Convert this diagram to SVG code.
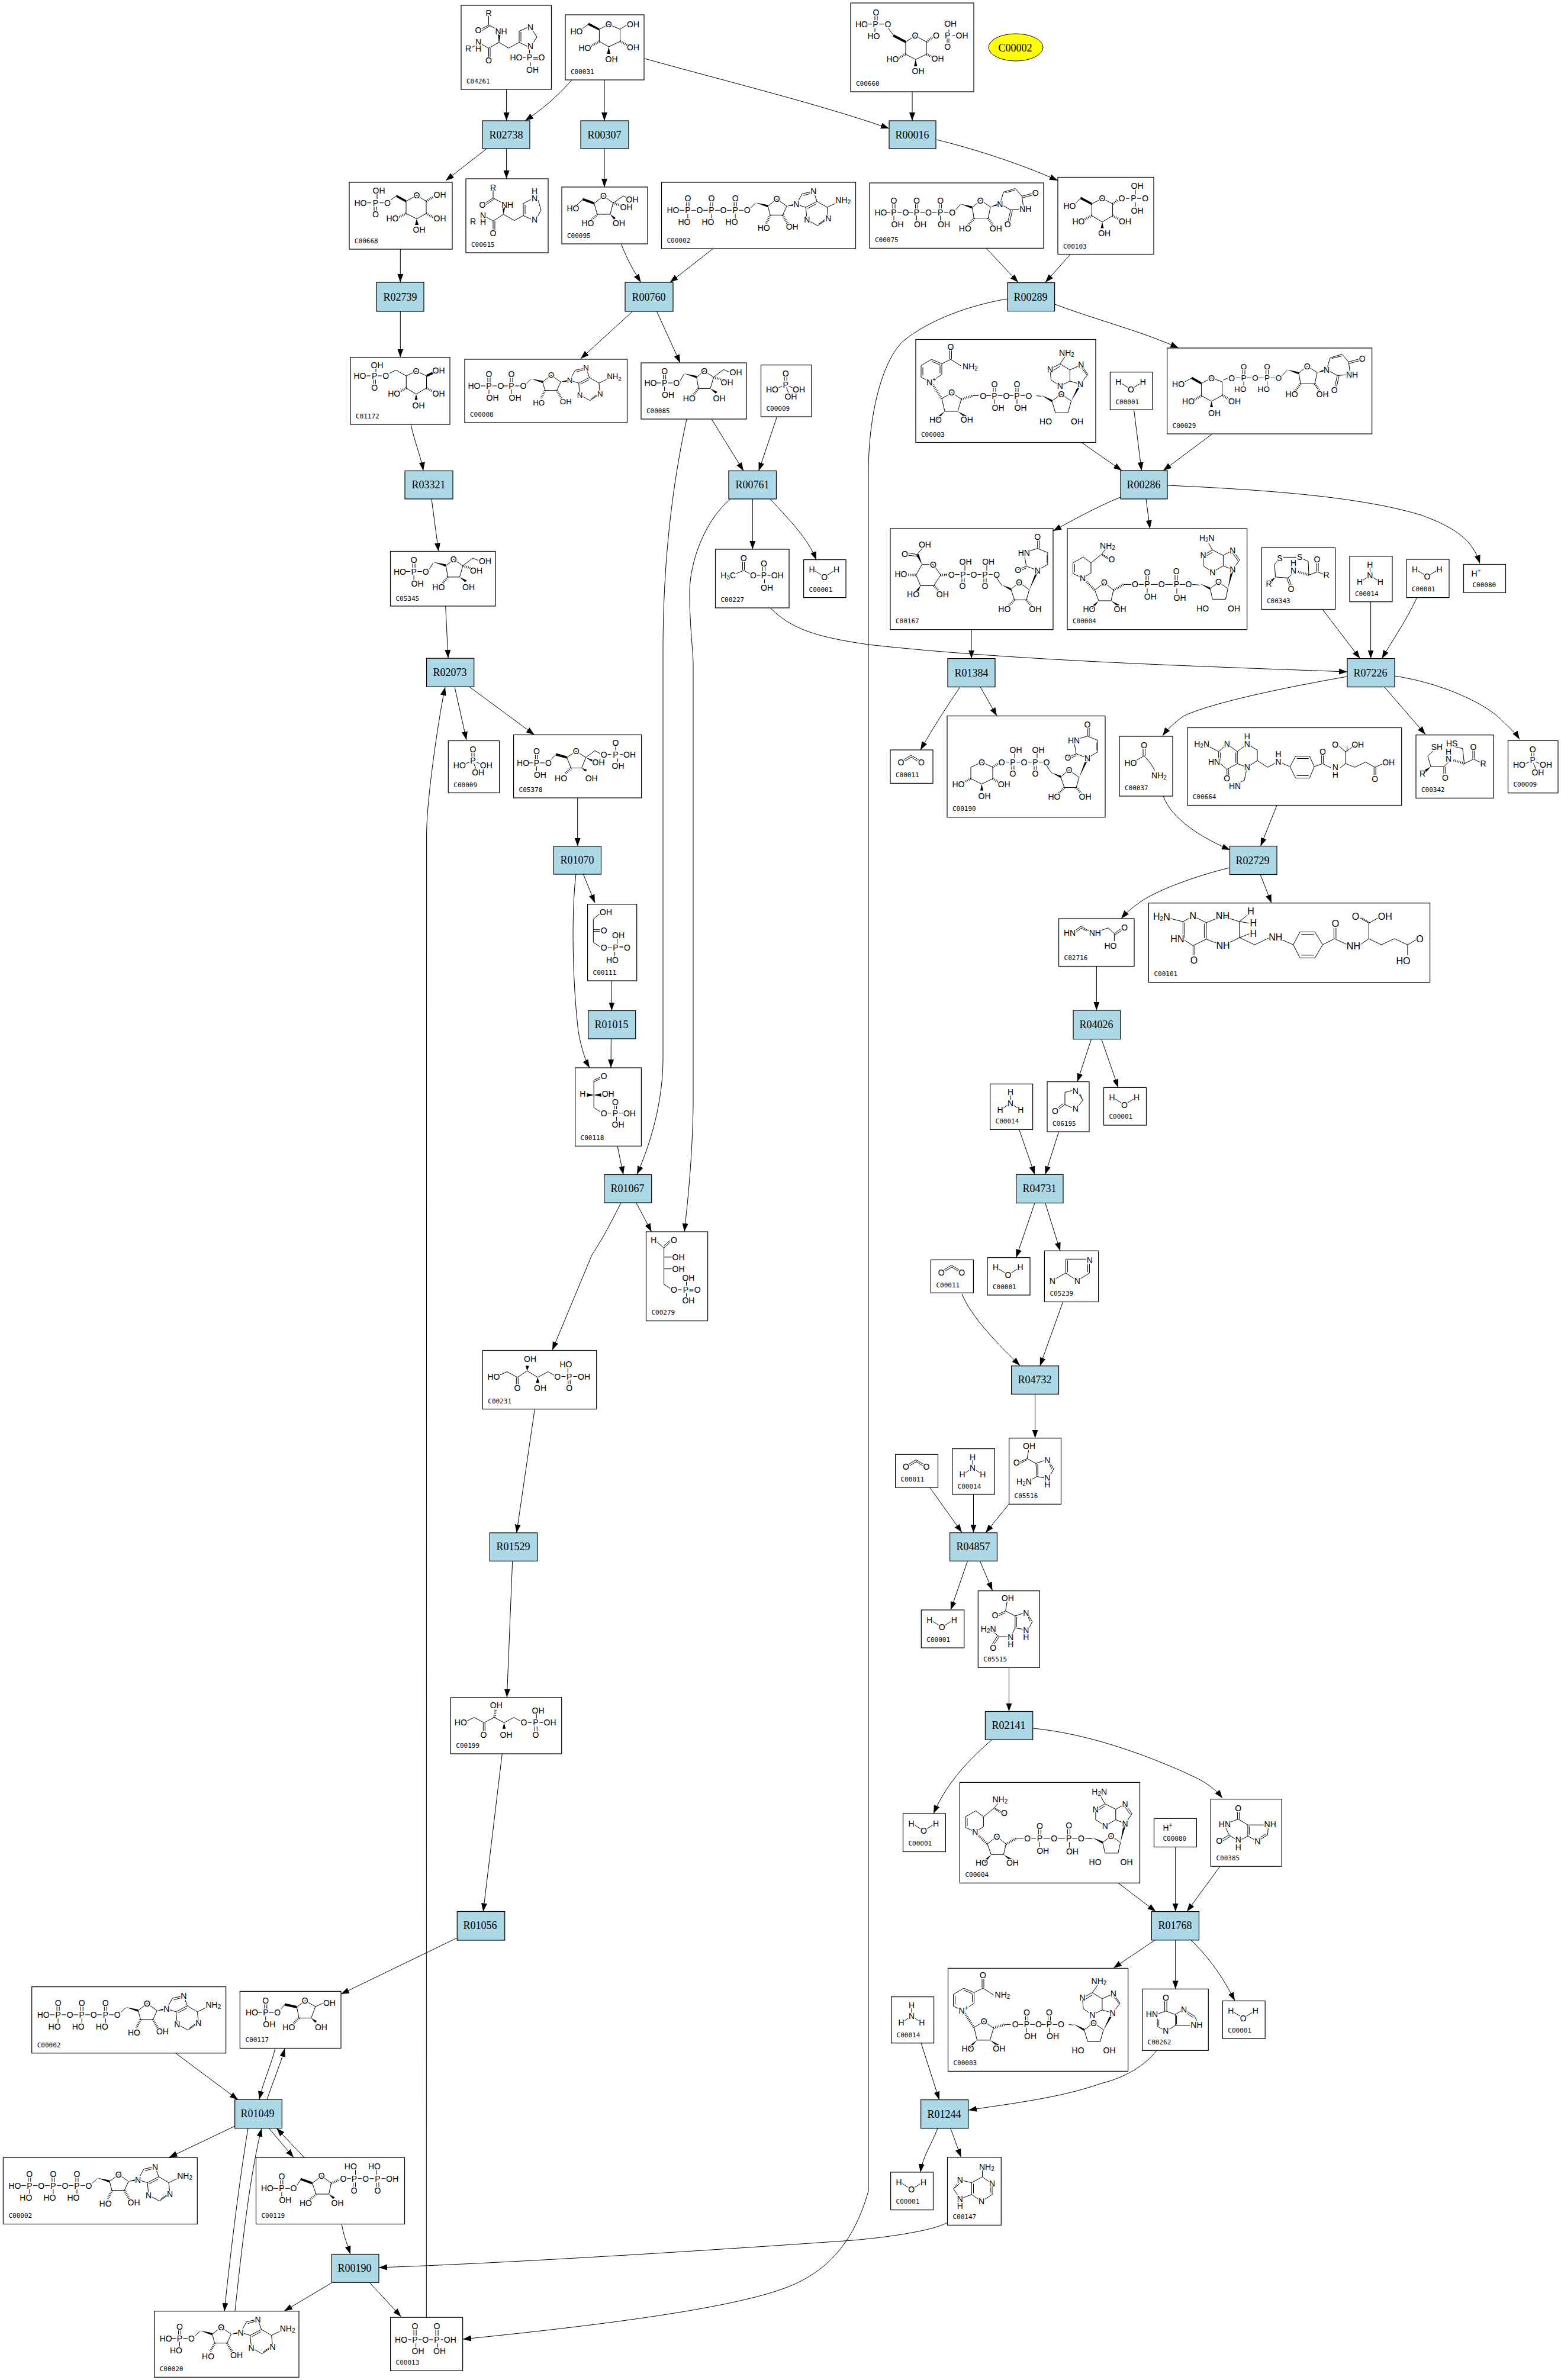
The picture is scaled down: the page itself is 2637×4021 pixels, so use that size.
<svg xmlns="http://www.w3.org/2000/svg" xmlns:xlink="http://www.w3.org/1999/xlink" width="2637" height="4021" viewBox="0 0 2637 4021">
<style>
text{font-family:"Liberation Sans",Arial,sans-serif;font-size:14px;text-anchor:middle;dominant-baseline:central;paint-order:stroke;stroke:#fff;stroke-width:3px;fill:#000}
.l{font-family:"DejaVu Sans Mono",monospace;font-size:11px;text-anchor:start;dominant-baseline:auto;stroke:none}
.r{font-family:"Liberation Serif",serif;font-size:18px;stroke:none}
.s{font-size:10px}
.n{fill:#fff;stroke:#000;stroke-width:1.2}
.q{fill:#add8e6;stroke:#000;stroke-width:1.2}
.b{fill:none;stroke:#000;stroke-width:1}
.w{fill:#000;stroke:none}
.h{fill:none;stroke:#000;stroke-width:4;stroke-dasharray:1 2}
.e{fill:none;stroke:#000;stroke-width:1;marker-end:url(#arr)}
</style>
<defs>
<marker id="arr" markerUnits="userSpaceOnUse" markerWidth="15" markerHeight="11" refX="14" refY="5" orient="auto"><path d="M0 0L14 5L0 10z" fill="#000"/></marker>
<g id="pu"><path class="b" d="M-14 0H-6M-2-14V-6M2-14V-6M0 6V14M6 0H14"/><text y="-20">O</text><text x="-6" y="20">HO</text><text>P</text><text x="20">O</text></g>
<g id="pv"><path class="b" d="M-14 0H-6M-2-14V-6M2-14V-6M0 6V14M6 0H14"/><text y="-20">O</text><text x="6" y="20">OH</text><text>P</text><text x="20">O</text></g>
<g id="ado"><path class="b" d="M6-4L14-12M35-7L50-19L67-7L60 8H39L35-7M83-10L93-28L112-32L118-15L99-5L83-10M95-25L109-29M99-5L101 16L119 26L137 14L135-5L118-15M117-11L102-3M121 23L134 14M135-5L160-17"/><path class="w" d="M14-13L35-9V-5zM67-7L83-12V-8z"/><path class="h" d="M39 8L32 22M60 8L68 22"/><text x="50" y="-19">O</text><text x="28" y="30">HO</text><text x="76" y="28">OH</text><text x="83" y="-10">N</text><text x="112" y="-32">N</text><text x="101" y="16">N</text><text x="137" y="14">N</text><text x="162" y="-17">NH<tspan class="s" dy="3">2</tspan></text></g>
<g id="uri"><path class="b" d="M6-4L14-13M34-8L48-20L65-9L61 10H37L34-8M81-14L99-4L121-6L118-27L107-40L87-34L81-14M99-4L94 18M102-3L97 18M118-27L140-33M118-24L140-30M106-37L90-33"/><path class="w" d="M14-14L34-10V-6zM65-9L81-16V-12z"/><path class="h" d="M37 10L27 23M61 10L70 23"/><text x="48" y="-20">O</text><text x="22" y="27">HO</text><text x="74" y="27">OH</text><text x="81" y="-14">N</text><text x="94" y="20">O</text><text x="124" y="-6">NH</text><text x="141" y="-33">O</text></g>
<g id="uri2"><path class="b" d="M0 6L9 19M24 25L38 13L55 26L50 43H30L24 25M69-7L50-14L46-37L69-44L86-37L86-17L69-7M50-14L36-8M50-11L37-5M69-44V-60M72-44V-60M85-33V-20"/><path class="w" d="M9 18L24 23V27zM55 26L67-7L71-6z"/><path class="h" d="M30 43L18 55M50 43L60 55"/><text x="38" y="13">O</text><text x="13" y="58">HO</text><text x="65" y="58">OH</text><text x="69" y="-7">N</text><text x="36" y="-8">O</text><text x="46" y="-37">HN</text><text x="69" y="-64">O</text></g>
<g id="m-water"><path class="b" d="M19 19L30 26M40 26L51 19"/><text x="14" y="16.8">H</text><text x="35" y="29.3">O</text><text x="55.5" y="16.8">H</text></g>
<g id="m-nh3"><path class="b" d="M34.4 19V27M29 36L22 41M40 36L47 41"/><text x="34.4" y="14">H</text><text x="34.4" y="32.5">N</text><text x="17" y="43.4">H</text><text x="51.7" y="43.4">H</text></g>
<g id="m-co2"><path class="b" d="M22 17L35 9M24 19L36 12M48 17L35 9M46 19L35 12"/><text x="17.9" y="21">O</text><text x="52.4" y="21">O</text></g>
<g id="m-pi"><path class="b" d="M39.7 19V27M43.7 19V27M36 36L26 40M47 36L57 40M43 38L47 48"/><text x="41.7" y="14.6">O</text><text x="41.7" y="33">P</text><text x="19" y="41">HO</text><text x="64" y="41">OH</text><text x="50.4" y="53.7">OH</text></g>
<g id="m-atp"><text x="19.5" y="47.3">HO</text><use href="#pu" x="44.4" y="47.3"/><use href="#pu" x="84.5" y="47.3"/><use href="#pu" x="124.6" y="47.3"/><use href="#ado" x="144.7" y="47.3"/></g>
<g id="m-f6p"><path class="b" d="M66 30L72.6 19M93.8 24.4L106.8 13.5L122.5 24.4L117 43.4H97L93.8 24.4M122.5 24.4L139 11.4L150 16"/><path class="w" d="M72.6 18L93.8 22V26zM117 43.4L126 52L129 49z"/><path class="h" d="M97 43.4L87 55M122.5 24.4L140 30"/><text x="106.8" y="13.5">O</text><text x="16" y="34">HO</text><use href="#pv" x="39.6" y="34"/><text x="81.3" y="60">HO</text><text x="132" y="60">OH</text><text x="145" y="32.5">OH</text><text x="160" y="16.3">OH</text></g>
<g id="m-nad"><path class="b" d="M44 41V59L26 72L9 64V44L26.5 33.7L44 41M41 44V57M12 47V61M27 37L41 43M44 41L59 33.7M57.5 14V33M60.5 14V33M59 33.7L77 45M44 100L60.6 89.8L77 101L71 121.4H49L44 100M96 95H106M204 95L212 96M230 104L246 92.3L262.7 104L257 124H236L230 104M278 75.5L290.7 59L279.4 42.9L260.4 51.5V70.4L278 75.5M289 60L279 46M260.4 70.4L243.7 78.6L228.6 68.4L227 50L243.7 41.3L260.4 51.5M243.7 41.3L253 28M231 53L244 45"/><path class="h" d="M27 74L44 100M77 101L96 95"/><path class="w" d="M212 94L230 102V106zM262.7 104L276 74L280 76zM49 121.4L34 132L37 136zM71 121.4L83 132L86 129z"/><text x="60.6" y="89.8">O</text><text x="246" y="92.3">O</text><text x="26" y="72">N<tspan class="s" dy="-5">+</tspan></text><text x="59" y="12">O</text><text x="92" y="45">NH<tspan class="s" dy="3">2</tspan></text><text x="33.4" y="135.7">HO</text><text x="86.3" y="135.7">OH</text><text x="113.6" y="95">O</text><use href="#pv" x="133" y="95"/><use href="#pv" x="171" y="95"/><text x="219.6" y="138.3">HO</text><text x="272.6" y="138.3">OH</text><text x="278" y="75.5">N</text><text x="279.4" y="42.9">N</text><text x="243.7" y="78.6">N</text><text x="227" y="50">N</text><text x="255" y="22">NH<tspan class="s" dy="3">2</tspan></text></g>
<g id="m-nadh"><path class="b" d="M40 58V75L26 83.7L9.5 76V58L27 48L40 58M12.5 60V74M40 58L58.4 43L74 52M59 45L73 54M58.4 43L66 33M46.5 104L62.5 91.3L78 104L74 122H53L46.5 104M95.4 94.4H108M120 94.4H129M133 79V88M137 79V88M135 101V109M141 94.4H153M165 94.4H178M182 79V88M186 79V88M185 101V110M190 94.4H199M211 94.4L224 95.4M241.3 101.5L255.5 90.3L271.3 101.5L267.4 119.4H245.3L241.3 101.5M279.2 69.4L291 53L279.2 36.7L263.4 45.4V63L279.2 69.4M288 54L278 40M263.4 63L245.3 73.5L229.5 63V45.4L245.3 36.2L263.4 45.4M245.3 36.2L237 22M232 48L245 40"/><path class="h" d="M28 86L46.5 104M78 104L95.4 94.4"/><path class="w" d="M224 93L241.3 99.5V103.5zM271.3 101.5L277 68L281 70zM53 122L40 132L43 136zM74 122L85 132L88 129z"/><text x="62.5" y="91.3">O</text><text x="255.5" y="90.3">O</text><text x="26" y="83.7">N</text><text x="68" y="28.6">NH<tspan class="s" dy="3">2</tspan></text><text x="75" y="52">O</text><text x="37" y="136">HO</text><text x="89" y="136">OH</text><text x="114.4" y="94.4">O</text><text x="135" y="94.4">P</text><text x="135" y="73.5">O</text><text x="140.3" y="115.3">OH</text><text x="159.3" y="94.4">O</text><text x="184.3" y="94.4">P</text><text x="184.3" y="72.4">O</text><text x="190" y="116.8">OH</text><text x="205" y="94.4">O</text><text x="228.7" y="134.7">HO</text><text x="281.6" y="134.7">OH</text><text x="279.2" y="69.4">N</text><text x="279.2" y="36.7">N</text><text x="245.3" y="73.5">N</text><text x="229.5" y="45.4">N</text><text x="235.8" y="15.8">H<tspan class="s" dy="3">2</tspan><tspan dy="-3">N</tspan></text></g>
</defs>
<g id="edges">
<path class="e" d="M855.6 151V204"/><path class="e" d="M966 135C940 165 915 185 887 204"/><path class="e" d="M1021 135V204"/><path class="e" d="M1089 99C1248 143 1380 175 1502 217"/><path class="e" d="M1541 155V204"/>
<path class="e" d="M1582 236C1640 250 1720 275 1787 305"/><path class="e" d="M1666 419.4L1720 477"/><path class="e" d="M1808 430L1766 477"/><path class="e" d="M1782 514C1850 540 1930 560 1991 588"/>
<path class="e" d="M1702 505C1640 515 1570 540 1526 576C1490 610 1467 700 1467 800L1467 3702C1450 3760 1420 3825 1340 3860C1250 3900 1000 3930 782 3952"/>
<path class="e" d="M1827 747.5L1895 795"/><path class="e" d="M1915.5 692L1928.4 795"/><path class="e" d="M2048 733L1965 795"/><path class="e" d="M1893 840C1855 855 1810 880 1779 897"/><path class="e" d="M1936 843L1942.6 893"/><path class="e" d="M1972 820C2150 828 2300 840 2400 870C2470 895 2490 920 2500 952"/>
<path class="e" d="M1641 1063.7V1112.6"/><path class="e" d="M1622 1160.6C1595 1200 1570 1240 1555 1267"/><path class="e" d="M1656 1160.6L1684 1209.6"/><path class="e" d="M2234 1029.5L2297.5 1112.6"/><path class="e" d="M2315.6 1016.7V1112.6"/><path class="e" d="M2393.7 1009.6C2375 1050 2350 1085 2334.5 1112.6"/>
<path class="e" d="M1301 1027C1335 1060 1370 1075 1467 1089C1700 1115 2000 1125 2276 1135"/><path class="e" d="M2276 1143C2150 1165 2040 1190 1999 1210C1985 1220 1972 1232 1964 1243"/><path class="e" d="M2338.5 1160.6L2408 1240.7"/><path class="e" d="M2356 1142C2440 1155 2510 1190 2535 1215C2550 1230 2560 1238 2567 1249"/>
<path class="e" d="M1965 1345C1980 1385 2030 1415 2078 1436"/><path class="e" d="M2157 1360.6L2129.5 1429.5"/><path class="e" d="M2077 1466C2020 1480 1950 1505 1922 1527C1910 1535 1900 1545 1894 1552"/><path class="e" d="M2129 1477.5L2148 1525.7"/><path class="e" d="M1852.4 1632.5V1707"/>
<path class="e" d="M1843.5 1755.6L1820 1827.6"/><path class="e" d="M1860.7 1755.6L1889 1837.4"/><path class="e" d="M1721.7 1908.4L1748 1984.3"/><path class="e" d="M1788.6 1912L1765.7 1984.3"/><path class="e" d="M1748 2032.5L1716.6 2124.7"/><path class="e" d="M1765.7 2032.5L1791 2113.3"/>
<path class="e" d="M1625 2186C1640 2225 1690 2275 1723 2307"/><path class="e" d="M1795.6 2199.5L1756.8 2307.7"/><path class="e" d="M1748.6 2355.4V2429.7"/><path class="e" d="M1570.6 2513L1625 2589"/><path class="e" d="M1644.5 2524.5V2589.6"/><path class="e" d="M1704.6 2541L1665 2589.6"/><path class="e" d="M1634.5 2637.3L1606 2720"/><path class="e" d="M1655.4 2637.3L1676.4 2687"/><path class="e" d="M1704.5 2817V2891.5"/>
<path class="e" d="M1676 2939C1640 2970 1600 3010 1577 3064"/><path class="e" d="M1745 2920C1850 2930 1960 2975 2013 3000C2040 3012 2055 3025 2065 3038"/><path class="e" d="M1889 3181.3L1952.5 3229.6"/><path class="e" d="M1985.7 3120.5V3229.6"/><path class="e" d="M2061 3153.2L2005 3229.6"/><path class="e" d="M1951 3277.8L1881 3325"/><path class="e" d="M1985.7 3277.8V3360.4"/><path class="e" d="M2012 3278C2045 3310 2065 3340 2086 3380"/>
<path class="e" d="M1556 3451.7L1586.7 3547.6"/><path class="e" d="M1954 3464C1935 3490 1900 3510 1860 3520C1790 3545 1700 3555 1636 3565"/><path class="e" d="M1584 3596C1575 3620 1558 3645 1555 3670"/><path class="e" d="M1605.6 3595.8C1612 3612 1618 3630 1623.5 3644.6"/>
<path class="e" d="M1600 3755C1580 3768 1500 3780 1440 3785C1300 3795 900 3822 640 3831"/><path class="e" d="M560 3857L480 3904.6"/><path class="e" d="M624 3856L677.5 3914"/><path class="e" d="M720.3 3915L720.6 1410C721 1340 745 1190 752 1161"/>
<path class="e" d="M768 1160.4L788 1250"/><path class="e" d="M793 1160.4L902.8 1241.5"/><path class="e" d="M975.7 1348V1429.8"/><path class="e" d="M985.4 1477L1005 1525.4"/><path class="e" d="M973 1477C965 1540 967 1660 977 1743C982 1770 988 1790 996 1804"/><path class="e" d="M1033.4 1657V1707.5"/><path class="e" d="M1032.4 1755L1032 1804"/><path class="e" d="M1043 1936.3L1053 1984.5"/>
<path class="e" d="M1160 708C1140 800 1120 930 1120 1100L1120 1788C1120 1860 1100 1930 1076 1984"/><path class="e" d="M1202 708L1256 795.5"/><path class="e" d="M1312.6 704L1281.7 795.5"/><path class="e" d="M1271.3 843V928"/><path class="e" d="M1301 843C1335 880 1365 910 1379 946"/><path class="e" d="M1234 843C1190 880 1165 950 1165 1001C1165 1060 1171 1100 1171 1123L1171 1865C1170 1950 1162 2030 1156 2081"/>
<path class="e" d="M1074.7 2032L1100.7 2081"/><path class="e" d="M1049 2032C1035 2060 1020 2090 1000 2120L933 2281"/><path class="e" d="M903.3 2380.6L872.7 2589.7"/><path class="e" d="M865.7 2637.4L856.3 2867.8"/><path class="e" d="M848.3 2963L816.3 3229.5"/><path class="e" d="M772.3 3274L576 3369"/>
<path class="e" d="M296.5 3468.7L402 3547.4"/><path class="e" d="M465 3460C458 3490 445 3515 438 3547"/><path class="e" d="M451 3547C460 3520 473 3490 481 3461"/><path class="e" d="M396 3592.4L285.6 3645"/><path class="e" d="M419 3596C405 3680 390 3800 379 3905"/><path class="e" d="M397 3905C410 3780 425 3660 442 3596"/><path class="e" d="M454.2 3595.6L496 3645"/><path class="e" d="M513.8 3645L467.2 3595.6"/><path class="e" d="M577.2 3757.5C580 3775 586 3790 591.9 3808.5"/>
<path class="e" d="M822.4 251L753 305"/><path class="e" d="M855.6 251V302"/><path class="e" d="M1021 251V316"/><path class="e" d="M1049.5 412.5C1060 440 1072 460 1082.6 477"/><path class="e" d="M1204 420.5L1131.8 477"/><path class="e" d="M676.3 421V477"/><path class="e" d="M676.3 526V603.6"/><path class="e" d="M1068.7 526L981 606"/><path class="e" d="M1109.4 526L1149 613"/><path class="e" d="M694 717C700 745 712 775 715 795"/><path class="e" d="M729 843L740.8 931.5"/><path class="e" d="M752.7 1024L757 1112"/>
</g>
<g id="R02738"><rect class="q" x="815" y="204" width="80" height="47"/><text class="r" x="855" y="227.5">R02738</text></g>
<g id="R00307"><rect class="q" x="981" y="204" width="81" height="47"/><text class="r" x="1021" y="227.5">R00307</text></g>
<g id="R00016"><rect class="q" x="1502" y="204" width="79" height="47"/><text class="r" x="1541" y="227.5">R00016</text></g>
<g id="R02739"><rect class="q" x="636" y="477" width="80" height="49"/><text class="r" x="676" y="501.5">R02739</text></g>
<g id="R00760"><rect class="q" x="1056" y="477" width="81" height="49"/><text class="r" x="1096" y="501.5">R00760</text></g>
<g id="R00289"><rect class="q" x="1702" y="477.6" width="79.6" height="48"/><text class="r" x="1741" y="501.5">R00289</text></g>
<g id="R03321"><rect class="q" x="684" y="795.5" width="81" height="47.5"/><text class="r" x="724" y="819">R03321</text></g>
<g id="R00761"><rect class="q" x="1231" y="795.5" width="80.5" height="47.5"/><text class="r" x="1271" y="819">R00761</text></g>
<g id="R00286"><rect class="q" x="1893" y="795" width="79" height="48"/><text class="r" x="1932" y="819">R00286</text></g>
<g id="R02073"><rect class="q" x="720.6" y="1112.2" width="80.1" height="48.2"/><text class="r" x="760" y="1136">R02073</text></g>
<g id="R01384"><rect class="q" x="1601" y="1112.6" width="80" height="48"/><text class="r" x="1641" y="1136.5">R01384</text></g>
<g id="R07226"><rect class="q" x="2276" y="1112.6" width="80" height="48"/><text class="r" x="2315" y="1136.5">R07226</text></g>
<g id="R01070"><rect class="q" x="935.4" y="1429.8" width="80.1" height="47.2"/><text class="r" x="975" y="1453">R01070</text></g>
<g id="R02729"><rect class="q" x="2077.5" y="1429.5" width="79.5" height="48"/><text class="r" x="2116" y="1453.5">R02729</text></g>
<g id="R01015"><rect class="q" x="993.6" y="1707.5" width="80.1" height="47.5"/><text class="r" x="1033" y="1731">R01015</text></g>
<g id="R04026"><rect class="q" x="1813" y="1707" width="79.6" height="48.6"/><text class="r" x="1852" y="1731">R04026</text></g>
<g id="R01067"><rect class="q" x="1020.6" y="1984.5" width="80.1" height="47.5"/><text class="r" x="1060" y="2008">R01067</text></g>
<g id="R04731"><rect class="q" x="1716.6" y="1984.3" width="79.4" height="48.2"/><text class="r" x="1756" y="2008">R04731</text></g>
<g id="R04732"><rect class="q" x="1708.6" y="2307.7" width="79.9" height="47.7"/><text class="r" x="1748" y="2331">R04732</text></g>
<g id="R01529"><rect class="q" x="827.3" y="2589.7" width="80.4" height="47.7"/><text class="r" x="867" y="2613">R01529</text></g>
<g id="R04857"><rect class="q" x="1604.6" y="2589.6" width="79.9" height="47.7"/><text class="r" x="1644" y="2613">R04857</text></g>
<g id="R02141"><rect class="q" x="1664.4" y="2891.5" width="80.3" height="47.7"/><text class="r" x="1704" y="2915">R02141</text></g>
<g id="R01056"><rect class="q" x="772.3" y="3229.5" width="80.4" height="48.5"/><text class="r" x="811" y="3253">R01056</text></g>
<g id="R01768"><rect class="q" x="1945.4" y="3229.6" width="80.1" height="48.2"/><text class="r" x="1985" y="3253">R01768</text></g>
<g id="R01049"><rect class="q" x="396.7" y="3547.4" width="79.7" height="48.2"/><text class="r" x="435" y="3571">R01049</text></g>
<g id="R01244"><rect class="q" x="1555.6" y="3547.6" width="80.1" height="48.2"/><text class="r" x="1595" y="3571.5">R01244</text></g>
<g id="R00190"><rect class="q" x="560.4" y="3808.5" width="79.6" height="47.8"/><text class="r" x="599" y="3832">R00190</text></g>
<g id="C00002-query"><ellipse cx="1716" cy="80" rx="46" ry="23" fill="#ff0" stroke="#000"/><text class="r" x="1715" y="80.5">C00002</text></g>

<g id="C04261" transform="translate(779,9)"><rect class="n" width="152.5" height="142"/><text class="l" x="9" y="132">C04261</text><path class="b" d="M46.5 18V33.5L33 40M48 35L33 44M46.5 33.5L60 40M64 62.5V50M64 62.5L46.5 72.3L35 66M46.5 72.3V88M49 72.3V88M24 68L18 71M64 62.5L80.4 72.3L98 62.5V43.7L113 37M101 61V45M120 41L128 53.6L120 66M117 72L98 62.5M115.5 81V74M104 88.4H109M122 88.4H130M122 91H130M117 96V104"/><path class="w" d="M64 62.5L62 48L67 48z"/><text x="46.5" y="13.4">R</text><text x="29" y="42.4">O</text><text x="67.6" y="44">NH</text><text x="46.5" y="93">O</text><text x="29" y="62">N</text><text x="29" y="73">H</text><text x="12" y="72.7">R</text><text x="117" y="36.6">N</text><text x="117" y="69">N</text><text x="115.5" y="88.4">P</text><text x="93" y="88.4">HO</text><text x="136" y="88.4">O</text><text x="120.6" y="108.5">OH</text></g>

<g id="C00031" transform="translate(955,25)"><rect class="n" width="133" height="110"/><text class="l" x="9" y="100">C00031</text><path class="b" d="M57.4 24.5L73.3 16L92.5 24.5V45L73.3 54L57.4 45V24.5M39.5 15.6L28 24M92.5 24.5L104 17"/><path class="w" d="M57.4 23L39.5 13.5L38.5 17.5L57.4 26.5zM73.3 54L70.5 66L76 66z"/><path class="h" d="M57.4 45L43 53M92.5 45L106 52"/><text x="73.3" y="16">O</text><text x="19" y="28">HO</text><text x="33" y="56">HO</text><text x="114.5" y="55.4">OH</text><text x="78" y="75.4">OH</text><text x="114.5" y="16">OH</text></g>

<g id="C00660" transform="translate(1437,5)"><rect class="n" width="208" height="150"/><text class="l" x="9" y="140">C00660</text><path class="b" d="M93 65.7L109 55.4L128 65.7V86.7L109.7 95.5L93 86.7V65.7M72.7 55L63 42M30 35.7H36M48 35.7H56M41 19V29M45 19V29M41 42V49M166 45V50M163 60V67M166 60V67M172 55.4H179"/><path class="w" d="M93 63.5L72.7 53L71.5 57L93 68zM109.7 95.5L107 107L112.5 107z"/><path class="h" d="M128 65.7L138 58M93 86.7L81 93M128 86.7L139 92"/><text x="109" y="55.4">O</text><text x="63" y="35.7">O</text><text x="42" y="35.7">P</text><text x="18.5" y="35.7">HO</text><text x="43" y="15.6">O</text><text x="39" y="55.8">HO</text><text x="144.5" y="55.4">O</text><text x="163.6" y="55.4">P</text><text x="168.7" y="35">OH</text><text x="188" y="55.4">OH</text><text x="163.6" y="73.7">O</text><text x="71" y="94.5">HO</text><text x="147" y="93.7">OH</text><text x="114" y="115">OH</text></g>

<g id="C00668" transform="translate(590,308)"><rect class="n" width="174" height="113"/><text class="l" x="9" y="103">C00668</text><path class="b" d="M30 34.7H37M47 18V28M42 41V48M46 41V48M51 34.7H58M70 30L79.6 22.8M96 32L114 22.2L130 32V52.6L114 61.8L96 52.6V32"/><path class="w" d="M79.6 21L96 30V34L79.6 25zM114 61.8L111 72L117 72z"/><path class="h" d="M96 52.6L84 59M130 52.6L142 59M130 32L143 24"/><text x="19" y="34.7">HO</text><text x="44.4" y="34.7">P</text><text x="50" y="14">OH</text><text x="44.4" y="53.7">O</text><text x="64.5" y="34.7">O</text><text x="114" y="22.2">O</text><text x="73" y="60.7">HO</text><text x="153" y="60.7">OH</text><text x="118" y="80">OH</text><text x="153" y="21">OH</text></g>

<g id="C00615" transform="translate(787,302)"><rect class="n" width="139" height="125"/><text class="l" x="9" y="115">C00615</text><path class="b" d="M46 19V32.5L33 41M48 34L34 44M46 32.5L60 40M46 71.5L63.5 60M63.5 60L82 70.5L97 62.3V41.7L110 35M100 60V44M122 36L127 53L120 66M97 62.3L110 68M46 71.5V86M49 71.5V86M46 71.5L35 65"/><path class="w" d="M63.5 60L61.5 48L66.5 48z"/><text x="46" y="14.6">R</text><text x="28" y="44">O</text><text x="70" y="44">NH</text><text x="46" y="92">O</text><text x="29" y="62">N</text><text x="29" y="73">H</text><text x="12" y="71.5">R</text><text x="116" y="32.5">N</text><text x="116" y="21">H</text><text x="116" y="69.4">N</text></g>

<g id="C00095" transform="translate(949,316)"><rect class="n" width="145" height="96"/><text class="l" x="9" y="86">C00095</text><path class="b" d="M54.7 27.6L70.4 15L86.7 27L81.8 46H60L54.7 27.6M35.8 20.6L26 30M86.7 27L104 15L112 19"/><path class="w" d="M35.8 18.5L54.7 25.5V29.5L35 22.5zM81.8 46L88 55L91 52z"/><path class="h" d="M60 46L50 56M86.7 27L100 31"/><text x="70.4" y="15">O</text><text x="19" y="35.8">HO</text><text x="44" y="61">HO</text><text x="96.6" y="61">OH</text><text x="109" y="33.6">OH</text><text x="119" y="20.6">OH</text></g>

<g id="C00002-1" transform="translate(1117.5,308)"><rect class="n" width="328" height="112"/><text class="l" x="9" y="102">C00002</text><use href="#m-atp"/></g>

<g id="C00075" transform="translate(1469,309)"><rect class="n" width="294" height="110.4"/><text class="l" x="9" y="100">C00075</text><text x="19" y="49.5">HO</text><use href="#pv" x="41" y="49.5"/><use href="#pv" x="79.5" y="49.5"/><use href="#pv" x="119.6" y="49.5"/><use href="#uri" x="139.3" y="49.5"/></g>

<g id="C00103" transform="translate(1787,299.5)"><rect class="n" width="162" height="130"/><text class="l" x="9" y="120">C00103</text><path class="b" d="M57.4 44.9L75 35.7L92.6 44.9V65L75 75.5L57.4 65V44.9M39 35L30 44M115 35.7H121M131 21V29M131 42V50M134 35.7H141"/><path class="w" d="M39 33L57.4 42.9V46.9L38 37zM75 75.5L72.5 86L77.5 86z"/><path class="h" d="M92.6 44.9L102 38M57.4 65L46 71M92.6 65L104 71"/><text x="75" y="35.7">O</text><text x="20" y="48.5">HO</text><text x="35" y="74.5">HO</text><text x="113.6" y="74.5">OH</text><text x="78.7" y="94.4">OH</text><text x="108" y="35.7">O</text><text x="128" y="35.7">P</text><text x="147.6" y="35.7">O</text><text x="134" y="14.3">OH</text><text x="134" y="56.6">OH</text></g>

<g id="C01172" transform="translate(592,603.6)"><rect class="n" width="168" height="113.4"/><text class="l" x="9" y="103">C01172</text><path class="b" d="M27 31.4H34M43 18V26M39 38V45M42.5 38V45M46 31.4H53M66 27L77 21.7L94.3 31.4L111 23.3L128.5 31.4V52L111 62.3L94.3 52V31.4"/><path class="w" d="M111 62.3L108.5 72L113.5 72zM128.5 29.5L140 24L141 28L128.5 33.5z"/><path class="h" d="M94.3 52L83 58M128.5 52L140 58"/><text x="16" y="31.4">HO</text><text x="40.6" y="31.4">P</text><text x="45" y="13">OH</text><text x="40.6" y="51.5">O</text><text x="59.6" y="31.4">O</text><text x="111" y="23.3">O</text><text x="73.7" y="61.8">HO</text><text x="149" y="61.8">OH</text><text x="115" y="81.8">OH</text><text x="149" y="22.8">OH</text></g>

<g id="C00008" transform="translate(785,607)"><rect class="n" width="274.5" height="107"/><text class="l" x="9" y="97">C00008</text><text x="16" y="45">HO</text><use href="#pv" x="41" y="45"/><use href="#pv" x="79" y="45"/><use href="#ado" transform="translate(98.6,45) scale(.95)"/></g>

<g id="C00085" transform="translate(1083,613)"><rect class="n" width="178" height="95"/><text class="l" x="9" y="85">C00085</text><use href="#m-f6p"/></g>
<g id="C00009-1" transform="translate(1285.5,616.6)"><rect class="n" width="85.5" height="87.4"/><text class="l" x="9" y="77">C00009</text><use href="#m-pi"/></g>
<g id="C05345" transform="translate(659.5,931.5)"><rect class="n" width="177.5" height="92.5"/><text class="l" x="9" y="83">C05345</text><use href="#m-f6p"/></g>

<g id="C00227" transform="translate(1208.5,928)"><rect class="n" width="124.5" height="99"/><text class="l" x="9" y="89">C00227</text><path class="b" d="M33 42L47.7 35.8L58 41M46 20V35M49 20V35M70 44H76M80 29V37M84 29V37M88 44H94M83 51V57"/><text x="21.7" y="44">H<tspan class="s" dy="3">3</tspan><tspan dy="-3">C</tspan></text><text x="47.7" y="14.6">O</text><text x="64" y="44">O</text><text x="82" y="44">P</text><text x="82" y="24">O</text><text x="104.7" y="44">OH</text><text x="87" y="64.5">OH</text></g>
<g id="C00001-1" transform="translate(1357.6,945.6)"><rect class="n" width="71.4" height="64"/><text class="l" x="9" y="54">C00001</text><use href="#m-water"/></g>

<g id="C00003-1" transform="translate(1547,573.5)"><rect class="n" width="304" height="174"/><text class="l" x="9" y="164">C00003</text><use href="#m-nad"/></g>
<g id="C00001-2" transform="translate(1875.4,628.6)"><rect class="n" width="71.6" height="63.7"/><text class="l" x="9" y="54">C00001</text><use href="#m-water"/></g>

<g id="C00029" transform="translate(1971.6,588)"><rect class="n" width="346" height="145"/><text class="l" x="9" y="135">C00029</text><path class="b" d="M58 59.7L75 50.5L93 57V80L75 90L58 80.6V59.7M42 50.5L30 57M95 54L102 51"/><path class="w" d="M42 48.5L58 57.7V61.7L41 52.5zM75 90L72.5 100L77.5 100z"/><path class="h" d="M58 80.6L46 87M93 80L105 87"/><text x="75" y="50.5">O</text><text x="19" y="60.7">HO</text><text x="36" y="90">HO</text><text x="114" y="90">OH</text><text x="80" y="110">OH</text><text x="109" y="50.5">O</text><use href="#pu" transform="translate(129.5,50.5) scale(.97)"/><use href="#pu" transform="translate(169,50.5) scale(.97)"/><use href="#uri" transform="translate(188.5,50.5)"/></g>

<g id="C00167" transform="translate(1504,893)"><rect class="n" width="275" height="170.7"/><text class="l" x="9" y="160">C00167</text><path class="b" d="M45.4 43.9L55 32M45.4 43.9L30 41M45.4 47L30 45M53.6 60.7L72.5 60.7L85.2 78.6L73.4 96.4H51L43.4 78.6L53.6 60.7M92 78H96"/><path class="w" d="M53.6 60.7L44 45L48 43zM51 96.4L43 105L47 108z"/><path class="h" d="M43.4 78.6L30 78M73.4 96.4L82 105M85.2 78.6L95 78"/><text x="58.4" y="26.5">OH</text><text x="24.4" y="42.9">O</text><text x="72.5" y="60.7">O</text><text x="18" y="77">HO</text><text x="38.6" y="110.7">HO</text><text x="88.3" y="110.7">OH</text><text x="103.3" y="77.6">O</text><path class="b" d="M109 77.6H117M126 62V71M121 84V91M125 84V91M129 77.6H135M147 77.6H154M163 62V71M158 84V91M162 84V91M166 77.6H173"/><text x="123" y="77.6">P</text><text x="127" y="56">OH</text><text x="122" y="97.4">O</text><text x="141" y="77.6">O</text><text x="160" y="77.6">P</text><text x="165.7" y="56">OH</text><text x="160" y="97.4">O</text><text x="179.8" y="77.6">O</text><use href="#uri2" x="179.8" y="77.6"/></g>

<g id="C00004-1" transform="translate(1803,893)"><rect class="n" width="303.6" height="170.7"/><text class="l" x="9" y="160">C00004</text><use href="#m-nadh"/></g>

<g id="C00343" transform="translate(2131,925.4)"><rect class="n" width="124.7" height="104.1"/><text class="l" x="9" y="94">C00343</text><path class="b" d="M36 16H59M70 19L79 23L80 46L94.6 40.8M93 24V40M96 24V40M94.6 40.8L105 45M27 22L22 28L23.7 49.5L44.2 51M44.2 51L54 43M42.5 51L48 65M45.5 50L51 65"/><path class="w" d="M23.7 49.5L13 56L16 60z"/><path class="h" d="M80 46L60 40"/><text x="30.8" y="17.9">S</text><text x="64.7" y="15.8">S</text><text x="54" y="38.3">N</text><text x="54" y="25.5">H</text><text x="50" y="70">O</text><text x="12.6" y="61">R</text><text x="94" y="19.4">O</text><text x="109.6" y="46">R</text></g>
<g id="C00014-1" transform="translate(2280,939.7)"><rect class="n" width="72" height="77"/><text class="l" x="9" y="67">C00014</text><use href="#m-nh3"/></g>
<g id="C00001-3" transform="translate(2376,945)"><rect class="n" width="72" height="64.6"/><text class="l" x="9" y="54">C00001</text><use href="#m-water"/></g>
<g id="C00080-1" transform="translate(2472.5,953.5)"><rect class="n" width="71" height="47.9"/><text class="l" x="15" y="38">C00080</text><text x="21" y="15.3">H<tspan class="s" dy="-5">+</tspan></text></g>

<g id="C00009-2" transform="translate(757.3,1251.5)"><rect class="n" width="86.3" height="88"/><text class="l" x="9" y="78">C00009</text><use href="#m-pi"/></g>

<g id="C05378" transform="translate(867.6,1241.5)"><rect class="n" width="216" height="106.5"/><text class="l" x="9" y="96">C05378</text><text x="16" y="47.4">HO</text><use href="#pv" x="38.8" y="47.4" /><path class="b" d="M63 42L72 33M90 38.3L105.6 27.5L122 38.3L115 56H97L90 38.3M122 38.3L137.2 26.8L147 32M158 33H165M172.4 18V26M176 40V46M180 33H188"/><path class="w" d="M72 31L90 36.3V40.3L71 35zM115 56L121 62L124 59zM122 38.3L136 43L135 47z"/><path class="h" d="M97 56L87 66"/><text x="80" y="73.5">HO</text><text x="131.6" y="73.5">OH</text><text x="105.6" y="27.5">O</text><text x="143.4" y="46">OH</text><text x="152.5" y="33">O</text><text x="172.4" y="33">P</text><text x="172.4" y="13">O</text><text x="196" y="33">OH</text><text x="176.5" y="52.8">OH</text></g>

<g id="C00190" transform="translate(1600,1209.6)"><rect class="n" width="267" height="171"/><text class="l" x="9" y="160">C00190</text><path class="b" d="M40 86.7L58.4 78L77 86.7V106L58.4 115L40 106V86.7M100 78H105M114 63V71M109 84V91M113 84V91M117 78H124M136 78H143M152 63V71M147 84V91M151 84V91M155 78H162"/><path class="w" d="M58.4 115L56 126L61 126z"/><path class="h" d="M40 106L28 112M77 106L87 112M77 86.7L87 80"/><text x="58.4" y="78">O</text><text x="19" y="115">HO</text><text x="96.2" y="115">OH</text><text x="63" y="135.7">OH</text><text x="92.3" y="78">O</text><text x="111" y="78">P</text><text x="116" y="57.6">OH</text><text x="111" y="97">O</text><text x="130" y="78">O</text><text x="149" y="78">P</text><text x="154" y="57.6">OH</text><text x="149" y="97">O</text><text x="168" y="78">O</text><use href="#uri2" x="168" y="78"/></g>

<g id="C00011-1" transform="translate(1504,1267)"><rect class="n" width="72" height="56.4"/><text class="l" x="9" y="46">C00011</text><use href="#m-co2"/></g>

<g id="C00037" transform="translate(1891,1244)"><rect class="n" width="90" height="101"/><text class="l" x="9" y="91">C00037</text><path class="b" d="M40 21V33M43.5 21V33M41.8 33L26 42M41.8 33L53 46L60 58"/><text x="41.8" y="15.3">O</text><text x="19" y="45">HO</text><text x="67" y="66">NH<tspan class="s" dy="3">2</tspan></text></g>

<g id="C00664" transform="translate(2005.7,1229.5)"><rect class="n" width="362" height="131"/><text class="l" x="9" y="120">C00664</text><path class="b" d="M35 31L53 40.3L67 27.5L84.5 40.3V60.7L67 70.4L53 58V40.3M56 42V56M82 42V59M67 70.4V80M70 70.4V80M84.5 40.3L101 27.5L118.3 37.8V55.6L101 66.8L84.5 60.7M101 66.8L96.4 88.8L85 94M118.3 55.6L135.7 66.8L153.9 57M160 60L173.5 65.8L183 48H206.6L214.5 65.8L206.6 85H183L173.5 65.8M185 52H205M185 81H205M214.5 65.8L228.7 60.7L243 68M227 45V60M230 45V60M258 68L267.4 60.7L283 66.8L301 58L317 66.8L332 60M267.4 60.7V40.3L256 31M270 40V32M267.4 40.3L283 30M315.5 66.8V80M318.5 66.8V80"/><text x="24.5" y="27.5">H<tspan class="s" dy="3">2</tspan><tspan dy="-3">N</tspan></text><text x="67" y="27.5">N</text><text x="45.4" y="57">HN</text><text x="67" y="85">O</text><text x="101" y="27.5">N</text><text x="101" y="14">H</text><text x="101" y="66.8">N</text><text x="80.4" y="98">HN</text><text x="153.9" y="57">N</text><text x="153.9" y="44">H</text><text x="228.7" y="40.3">O</text><text x="250" y="66">N</text><text x="250" y="79">H</text><text x="250" y="28.6">O</text><text x="288" y="28.6">OH</text><text x="340" y="58">OH</text><text x="317" y="86">O</text></g>

<g id="C00342" transform="translate(2392,1241.7)"><rect class="n" width="131" height="106.7"/><text class="l" x="9" y="96">C00342</text><path class="b" d="M29 27L20 35.7L25 53.6L47 53.6L55 46M47 53.6L47 66M50 53.6L50 66M65 20L78.9 23L81.6 48.5L97.6 40.8M96 26V40M99 26V40M97.6 40.8L108 46"/><path class="w" d="M25 53.6L13 60L16 64z"/><path class="h" d="M81.6 48.5L62 42"/><text x="35.5" y="20.4">SH</text><text x="11" y="65.3">R</text><text x="49.4" y="72.4">O</text><text x="55" y="40.8">N</text><text x="55" y="28">H</text><text x="60.7" y="14.3">HS</text><text x="97" y="20.4">O</text><text x="113.6" y="48.5">R</text></g>
<g id="C00009-3" transform="translate(2547.5,1251.4)"><rect class="n" width="84.5" height="88.3"/><text class="l" x="9" y="78">C00009</text><use href="#m-pi"/></g>

<g id="C00111" transform="translate(992.6,1527.7)"><rect class="n" width="83.1" height="129.3"/><text class="l" x="9" y="119">C00111</text><path class="b" d="M22 15L9.7 25.2V64.3L21 72M9.7 43H21M9.7 46H21M34 73.5H41M50 58V67M54 73.5H60M54 71.5H60M46 80V88"/><text x="31" y="13.8">OH</text><text x="27.5" y="44.4">O</text><text x="27.5" y="73.5">O</text><text x="47.4" y="73.5">P</text><text x="52" y="52">OH</text><text x="66.8" y="73.5">O</text><text x="41.8" y="94">HO</text></g>

<g id="C00118" transform="translate(971.6,1804)"><rect class="n" width="111.8" height="132.3"/><text class="l" x="9" y="122">C00118</text><path class="b" d="M42 16L31.6 21V67.3L42 74M31.6 24L42 18.5M54 76.5H61M66 63V70M70 63V70M74 76.5H82M70 83V90"/><path class="w" d="M31.6 46L20 43V49zM31.6 46L44 43V49z"/><text x="48.5" y="13.8">O</text><text x="12.8" y="44.4">H</text><text x="55.6" y="44.4">OH</text><text x="48.5" y="76.5">O</text><text x="67.9" y="76.5">P</text><text x="67.9" y="58">O</text><text x="91.8" y="76.5">OH</text><text x="72.4" y="96.4">OH</text></g>

<g id="C00279" transform="translate(1091.5,2081)"><rect class="n" width="104.1" height="150.6"/><text class="l" x="9" y="140">C00279</text><path class="b" d="M18 17L30.1 27.5L41 17M30.1 24L41 14M30.1 27.5V88.8L41 96M30.1 42.8H44M30.1 62.7H44M53 98H60M68 84V91M73 98H80M73 100H80M68 104V110"/><text x="12.8" y="13.8">H</text><text x="46.9" y="13.8">O</text><text x="54.6" y="42.8">OH</text><text x="54.6" y="62.7">OH</text><text x="46.9" y="98">O</text><text x="66.8" y="98">P</text><text x="71.4" y="78">OH</text><text x="86.7" y="98">O</text><text x="71.4" y="116.3">OH</text></g>

<g id="C00231" transform="translate(815.3,2281.5)"><rect class="n" width="192.4" height="99.1"/><text class="l" x="9" y="89">C00231</text><path class="b" d="M28 42L41.3 36L58.7 45.5L75.3 34.5L93 45.5L110.3 36L121 42M57 46V58M60 46V58M133 44H140M144 30V38M144.5 50V58M148 50V58M153 44H160"/><path class="w" d="M75.3 34.5L72.5 26H78.5zM93 45.5L90 55H96z"/><text x="18.7" y="44">HO</text><text x="58.7" y="63.8">O</text><text x="80.3" y="14">OH</text><text x="97.3" y="63.8">OH</text><text x="126.3" y="44">O</text><text x="146.3" y="44">P</text><text x="140.7" y="23.5">HO</text><text x="146.3" y="63.8">O</text><text x="171.3" y="44">OH</text></g>

<g id="C00199" transform="translate(761.3,2867.8)"><rect class="n" width="187.4" height="95.2"/><text class="l" x="9" y="85">C00199</text><path class="b" d="M27 40L39.7 33.8L56.3 42.6L73.7 33.8L90.3 42.6L107 33.8L118 40M55 43V57M58 43V57M130 42.6H137M145 28V36M142 49V57M146 49V57M150 42.6H158"/><path class="w" d="M90.3 42.6L87.5 53H93z"/><path class="h" d="M73.7 33.8L76 21"/><text x="17" y="42.6">HO</text><text x="55.7" y="63">O</text><text x="77" y="13.2">OH</text><text x="93.7" y="63">OH</text><text x="123.7" y="42.6">O</text><text x="143.7" y="42.6">P</text><text x="147.7" y="22.7">OH</text><text x="143.7" y="63">O</text><text x="167.7" y="42.6">OH</text></g>

<g id="C02716" transform="translate(1788.6,1552)"><rect class="n" width="127.4" height="80.5"/><text class="l" x="9" y="70">C02716</text><path class="b" d="M28 20L37.6 13L53 22M29 23L38 16L47 21M71 20L83.5 15.7L93.8 25.5L105 17M94 28L106 20M93.8 25.5V38"/><text x="18.5" y="24.4">HN</text><text x="61.2" y="24.4">NH</text><text x="111" y="14.6">O</text><text x="87.4" y="45.5">HO</text></g>

<g id="C00101" transform="translate(1940.4,1525.7)"><rect class="n" width="475.2" height="133.9"/><text class="l" x="9" y="123">C00101</text><path class="b" d="M36 26L58 31.4L75 22.2L97.4 33V61L75 72L58 61V31.4M61 33V59M94 35V59M75 72V88M78 72V88M97.4 33L125 22.2L153.4 31.4L172 16M153.4 31.4L170 34M153.4 31.4V58.5L170 52M153.4 58.5L125.6 72L97.4 61M153.4 58.5L179.2 70.5L205 58M225 62L244.3 70.5L255.7 48.8H281L294 70.5L281 92.7H255.7L244.3 70.5M258 53H279M258 88H279M294 70.5L314 60.2L335 70M313 42V60M316.5 42V60M358 70L371.9 60.2L393 70.5L415.2 60.2L437.5 70.5L452 62M371.9 60.2V34L357 25M375 34L360 25M371.9 34L388 25M437.5 70.5V88"/><text x="22" y="23.3" style="font-size:16px">H<tspan class="s" dy="3">2</tspan><tspan dy="-3">N</tspan></text><text x="75" y="22.2" style="font-size:16px">N</text><text x="48.5" y="61" style="font-size:16px">HN</text><text x="76.5" y="96.5" style="font-size:16px">O</text><text x="125" y="22.2" style="font-size:16px">NH</text><text x="172.6" y="14" style="font-size:16px">H</text><text x="177" y="34" style="font-size:16px">H</text><text x="177" y="52" style="font-size:16px">H</text><text x="125.6" y="72" style="font-size:16px">NH</text><text x="214.3" y="57.5" style="font-size:16px">NH</text><text x="315.7" y="35.2" style="font-size:16px">O</text><text x="346" y="73.2" style="font-size:16px">NH</text><text x="349.5" y="23.3" style="font-size:16px">O</text><text x="399.4" y="23.3" style="font-size:16px">OH</text><text x="458" y="61" style="font-size:16px">O</text><text x="430" y="97.6" style="font-size:16px">HO</text></g>

<g id="C00014-2" transform="translate(1672.6,1831.4)"><rect class="n" width="72" height="77"/><text class="l" x="9" y="67">C00014</text><use href="#m-nh3"/></g>
<g id="C06195" transform="translate(1769,1827.6)"><rect class="n" width="71" height="84.4"/><text class="l" x="9" y="74">C06195</text><path class="b" d="M42 15L30 17.9V38.5L20 46M27 37L18 44M30 38.5L42 44M52 20L60.6 30.4L52 42M56 21L59 30"/><text x="47.8" y="15.2">N</text><text x="47.8" y="45.5">N</text><text x="13.4" y="49.3">O</text></g>
<g id="C00001-4" transform="translate(1864.5,1837.4)"><rect class="n" width="72" height="63.6"/><text class="l" x="9" y="53">C00001</text><use href="#m-water"/></g>
<g id="C00011-2" transform="translate(1572.4,2128.5)"><rect class="n" width="72" height="55.8"/><text class="l" x="9" y="46">C00011</text><use href="#m-co2"/></g>
<g id="C00001-5" transform="translate(1668,2124.7)"><rect class="n" width="72" height="63.3"/><text class="l" x="9" y="53">C00001</text><use href="#m-water"/></g>
<g id="C05239" transform="translate(1764.4,2113.3)"><rect class="n" width="91.2" height="86.2"/><text class="l" x="9" y="76">C05239</text><path class="b" d="M71 14H36V37.4L50 47M39 16V36M61 47L76 37.4V22M73 36V23M36 37.4L19 47"/><text x="76.5" y="15.7">N</text><text x="55.5" y="51">N</text><text x="13.4" y="51">N</text></g>

<g id="C05516" transform="translate(1704.6,2429.7)"><rect class="n" width="87.9" height="111.6"/><text class="l" x="9" y="101">C05516</text><path class="b" d="M33 20L30.6 34.7L18 40M30 37L18 43M30.6 34.7L45.4 42.8L59 38M45.4 42.8L47 64.9L59 67M48.5 44V63M69 42L75.4 52L70 62M67 41L72 52M47 64.9L36 71"/><text x="34" y="13.5">OH</text><text x="12.5" y="41.2">O</text><text x="64.7" y="37.4">N</text><text x="64.7" y="67.2">N</text><text x="64.7" y="78">H</text><text x="25.4" y="73.7">H<tspan class="s" dy="3">2</tspan><tspan dy="-3">N</tspan></text></g>
<g id="C00011-3" transform="translate(1512.6,2457.3)"><rect class="n" width="71.9" height="55.7"/><text class="l" x="9" y="46">C00011</text><use href="#m-co2"/></g>
<g id="C00014-3" transform="translate(1608.6,2447.6)"><rect class="n" width="71.8" height="76.9"/><text class="l" x="9" y="67">C00014</text><use href="#m-nh3"/></g>
<g id="C00001-6" transform="translate(1556.3,2720)"><rect class="n" width="72.4" height="64"/><text class="l" x="9" y="54">C00001</text><use href="#m-water"/></g>
<g id="C05515" transform="translate(1652.3,2687.7)"><rect class="n" width="104" height="129.5"/><text class="l" x="9" y="119">C05515</text><path class="b" d="M49 18L46.4 34L33 40M46 37L33 43M46.4 34L62.5 42.3L76 38M62.5 42.3V62.6L76 65M65 44V61M85 41L91.5 52L86 63M83 40L88 52M62.5 62.6L55 78M50 77.5H35.7L24 68M35.7 77.5L26 92M33 76L24 90"/><text x="50" y="12.5">OH</text><text x="28.6" y="41.2">O</text><text x="81" y="36.9">N</text><text x="81" y="66.8">N</text><text x="81" y="78">H</text><text x="55" y="78">N</text><text x="55" y="90">H</text><text x="17.4" y="64">H<tspan class="s" dy="3">2</tspan><tspan dy="-3">N</tspan></text><text x="25.4" y="96.5">O</text></g>

<g id="C00001-7" transform="translate(1525.5,3064)"><rect class="n" width="71.9" height="64.5"/><text class="l" x="9" y="54">C00001</text><use href="#m-water"/></g>
<g id="C00004-2" transform="translate(1621.4,3011.4)"><rect class="n" width="304.1" height="169.9"/><text class="l" x="9" y="160">C00004</text><use href="#m-nadh"/></g>
<g id="C00080-2" transform="translate(1949.5,3072.3)"><rect class="n" width="71.9" height="48.2"/><text class="l" x="15" y="38">C00080</text><text x="23" y="15.3">H<tspan class="s" dy="-5">+</tspan></text></g>
<g id="C00385" transform="translate(2045.4,3039.6)"><rect class="n" width="119.9" height="113.6"/><text class="l" x="9" y="103">C00385</text><path class="b" d="M45 20V33.8M48 20V33.8M46.4 33.8L30 40M31 60.7L25 48M31 60.7L46.4 71L62.5 62.6V43.6L46.4 33.8M65 60V46M31 60.7L18 68M33 63L20 71M62.5 43.6H92M62.5 62.6L79 71L95.9 60.7L97 48M93 59L80 67"/><text x="46.4" y="15">O</text><text x="23.5" y="42.5">HN</text><text x="14.3" y="70">O</text><text x="46.4" y="68">N</text><text x="46.4" y="81">H</text><text x="100.3" y="42.5">NH</text><text x="79" y="71">N</text></g>
<g id="C00003-2" transform="translate(1601.5,3325.4)"><rect class="n" width="304.1" height="174"/><text class="l" x="9" y="164">C00003</text><use href="#m-nad"/></g>
<g id="C00262" transform="translate(1929.6,3360.4)"><rect class="n" width="111.7" height="104"/><text class="l" x="9" y="94">C00262</text><path class="b" d="M38 20V37.3M41.5 20V37.3M39.8 37.3L24 43M39.8 37.3L56 43V61.4L46 68M58 45V60M25.5 50L25.5 63L34 68M28 52V62M56 43L70.4 34.4M76 38L88.3 46L93 55M75 41L86 48M56 61.4H82"/><text x="39.8" y="14.4">O</text><text x="16.3" y="43">HN</text><text x="39.8" y="70.6">N</text><text x="70.4" y="34.4">N</text><text x="91.8" y="60.3">NH</text></g>
<g id="C00001-8" transform="translate(2065.3,3380.5)"><rect class="n" width="71.9" height="63.8"/><text class="l" x="9" y="53">C00001</text><use href="#m-water"/></g>
<g id="C00014-4" transform="translate(1505.6,3373.6)"><rect class="n" width="72" height="78.1"/><text class="l" x="9" y="68">C00014</text><use href="#m-nh3"/></g>
<g id="C00001-9" transform="translate(1504.6,3669.9)"><rect class="n" width="71.9" height="63.7"/><text class="l" x="9" y="53">C00001</text><use href="#m-water"/></g>
<g id="C00147" transform="translate(1600.5,3644.6)"><rect class="n" width="90.8" height="114.8"/><text class="l" x="9" y="104">C00147</text><path class="b" d="M59 33.3V22M59 33.3L75.5 44.8V63L57.6 74.6L40.8 63V43L59 33.3M72.5 48V60M44 45V61M40.8 43L21.4 38.5L10.2 53.4L21.4 70.6L40.8 63M25 40L13 52"/><text x="66.3" y="16">NH<tspan class="s" dy="3">2</tspan></text><text x="75.5" y="44.8">N</text><text x="57.6" y="74.6">N</text><text x="21.4" y="38.5">N</text><text x="21.4" y="70.6">N</text><text x="21.4" y="82">H</text></g>

<g id="C00002-2" transform="translate(53.7,3356.6)"><rect class="n" width="327.9" height="112.1"/><text class="l" x="9" y="102">C00002</text><use href="#m-atp"/></g>
<g id="C00117" transform="translate(405.4,3364.4)"><rect class="n" width="170.6" height="96.1"/><text class="l" x="9" y="86">C00117</text><text x="20" y="35.9">HO</text><use href="#pv" x="43.4" y="35.9"/><path class="b" d="M69 30L76 22M96 26.7L109.8 15.6L127.4 25.7L120.3 45H99.7L96 26.7M127.4 25.7L140 20"/><path class="w" d="M76 20L96 24.7V28.7L75 24zM120.3 45L127 53L130 50z"/><path class="h" d="M99.7 45L90 55"/><text x="109.8" y="15.6">O</text><text x="82.4" y="60.7">HO</text><text x="137" y="60.7">OH</text><text x="151" y="19.8">OH</text></g>
<g id="C00002-3" transform="translate(5.4,3645.3)"><rect class="n" width="327.9" height="112.2"/><text class="l" x="9" y="102">C00002</text><use href="#m-atp"/></g>
<g id="C00119" transform="translate(432.5,3645.3)"><rect class="n" width="251" height="112.2"/><text class="l" x="9" y="102">C00119</text><text x="19" y="52">HO</text><use href="#pv" x="43.4" y="52"/><path class="b" d="M69 47L76 36.3M95 43.2L110.8 30.8L127 43.2L123 61.6H101.4L95 43.2M168 21V29M164 42V50M168 42V50M172 35.4H179M192 35.4H199M203 21V29M203.5 42V50M207.5 42V50M212 35.4H220M153 35.4H160"/><path class="w" d="M76 34.5L95 41.2V45.2L75 38zM123 61.6L130 70L133 67z"/><path class="h" d="M101.4 61.6L91 71M127 43.2L141 37"/><text x="110.8" y="30.8">O</text><text x="84" y="76.8">HO</text><text x="137.6" y="76.8">OH</text><text x="147.4" y="35.4">O</text><text x="165.8" y="35.4">P</text><text x="159.8" y="15.2">HO</text><text x="165.8" y="56">O</text><text x="185.3" y="35.4">O</text><text x="205.4" y="35.4">P</text><text x="200" y="15.2">HO</text><text x="205.4" y="56">O</text><text x="230.3" y="35.4">OH</text></g>
<g id="C00020" transform="translate(260.7,3904.6)"><rect class="n" width="244.3" height="111.7"/><text class="l" x="9" y="101">C00020</text><text x="19.5" y="46">HO</text><use href="#pu" x="42.8" y="46"/><use href="#ado" x="62.9" y="46"/></g>
<g id="C00013" transform="translate(659.6,3915.2)"><rect class="n" width="122" height="90.1"/><text class="l" x="9" y="80">C00013</text><path class="b" d="M30 37.7H35M39.5 20V31M43.5 20V31M43 44V51M47.5 37.7H53M65 37.7H72M76.5 20V31M80.5 20V31M80 44V51M85 37.7H90"/><text x="18" y="37.7">HO</text><text x="41.4" y="37.7">P</text><text x="41.4" y="14.7">O</text><text x="46.4" y="57">OH</text><text x="59" y="37.7">O</text><text x="78.4" y="37.7">P</text><text x="78.4" y="14.7">O</text><text x="83" y="57">OH</text><text x="100.7" y="37.7">OH</text></g>
</svg>
